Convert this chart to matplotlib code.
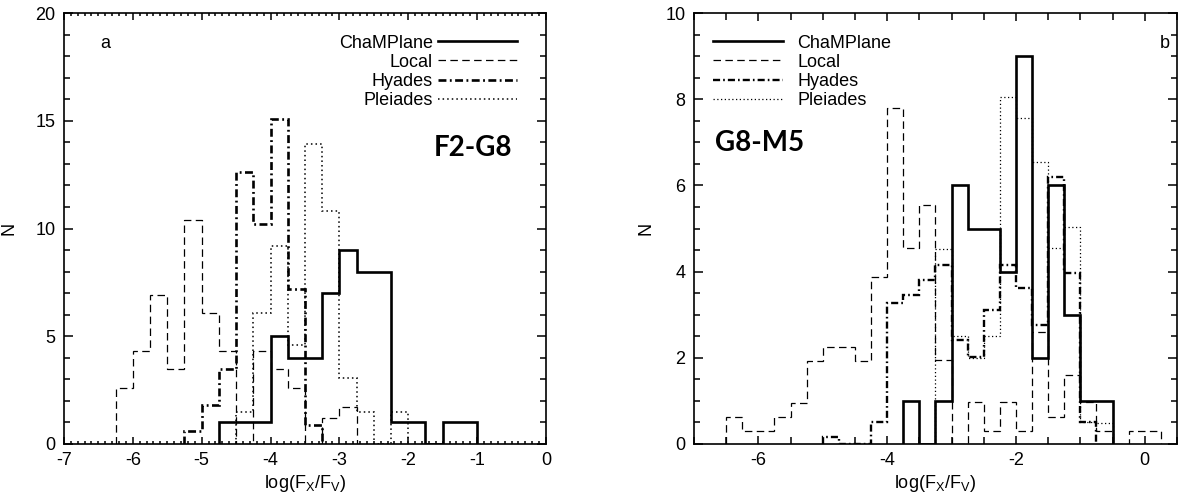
import numpy as np
import matplotlib
matplotlib.use("Agg")
import matplotlib.pyplot as plt
from matplotlib.lines import Line2D
from matplotlib.ticker import MultipleLocator

plt.rcParams['font.family'] = ['Liberation Sans', 'DejaVu Sans']
plt.rcParams['mathtext.fontset'] = 'custom'
plt.rcParams['mathtext.rm'] = 'Liberation Sans'
plt.rcParams['mathtext.it'] = 'Liberation Sans'
plt.rcParams['axes.unicode_minus'] = False

bin_width = 0.25
series_names = ['ChaMPlane', 'Local', 'Hyades', 'Pleiades']

# panel a: F2-G8 (first bin edge, then counts per 0.25 dex bin)
champ_a_start = -4.75
champ_a = [1, 1, 1, 5, 4, 4, 7, 9, 8, 8, 1, 1, 0, 1, 1]
local_a_start = -6.25
local_a = [2.6, 4.3, 6.9, 3.5, 10.4, 6.1, 4.3, 0, 4.3, 3.5, 2.6, 0, 1.2, 1.7]
hyades_a_start = -5.25
hyades_a = [0.6, 1.8, 3.5, 12.6, 10.2, 15.1, 7.2, 0.9]
pleiades_a_start = -4.5
pleiades_a = [1.5, 6.1, 9.2, 4.6, 13.9, 10.8, 3.05, 1.5, 0, 1.5]

# panel b: G8-M5
champ_b_start = -3.75
champ_b = [1, 0, 1, 6, 5, 5, 4, 9, 2, 6, 3, 1, 1]
local_b_start = -6.5
local_b = [0.63, 0.3, 0.3, 0.63, 0.96, 1.93, 2.26, 2.26, 1.93, 3.88, 7.8, 4.55,
           5.55, 1.95, 0, 0.97, 0.31, 0.97, 0.31, 2.6, 0.63, 1.6, 0.97, 0.31,
           0, 0.3, 0.3]
hyades_b_start = -5.0
hyades_b = [0.17, 0, 0, 0.52, 3.28, 3.46, 3.8, 4.15, 2.41, 2.03, 3.11, 4.15,
            3.61, 2.76, 6.2, 3.96, 0.52]
pleiades_b_start = -3.25
pleiades_b = [4.53, 2.5, 2.0, 2.5, 8.06, 7.56, 6.54, 4.55, 5.03, 0.52, 0.48]


def edges(start, vals):
    return start + bin_width * np.arange(len(vals) + 1)


def styles(hy_lw, pl_lw):
    return [
        dict(lw=1.9, ls='-'),
        dict(lw=0.9, ls=(0, (6, 3.5))),
        dict(lw=hy_lw, ls=(0, (3.0, 1.3, 0.7, 1.3))),
        dict(lw=pl_lw, ls=(0, (1, 2))),
    ]


def setup(ax, xlim, ylim, xmaj, xmin, ymaj, ymin, xlen):
    ax.set_xlim(*xlim)
    ax.set_ylim(*ylim)
    ax.xaxis.set_major_locator(MultipleLocator(xmaj))
    ax.xaxis.set_minor_locator(MultipleLocator(xmin))
    ax.yaxis.set_major_locator(MultipleLocator(ymaj))
    ax.yaxis.set_minor_locator(MultipleLocator(ymin))
    ax.tick_params(which='both', direction='in', top=True, right=True,
                   width=1.1, labelsize=13, pad=6)
    ax.tick_params(axis='x', which='major', length=xlen[0])
    ax.tick_params(axis='x', which='minor', length=xlen[1])
    ax.tick_params(axis='y', which='major', length=6.5)
    ax.tick_params(axis='y', which='minor', length=4)
    for s in ax.spines.values():
        s.set_linewidth(1.2)
    ax.set_xlabel(r'log(F$_\mathrm{X}$/F$_\mathrm{V}$)', fontsize=13)
    ax.set_ylabel('N', fontsize=13)


fig = plt.figure(figsize=(11.82, 5.0), dpi=100)
ax1 = fig.add_axes([0.0541, 0.112, 0.4078, 0.862])
ax2 = fig.add_axes([0.5871, 0.112, 0.4086, 0.862])

# left panel
st = styles(1.9, 1.1)
data_a = [(champ_a_start, champ_a), (local_a_start, local_a),
          (hyades_a_start, hyades_a), (pleiades_a_start, pleiades_a)]
for (s0, v), sty in zip(data_a, st):
    ax1.stairs(v, edges(s0, v), baseline=0, color='black', linewidth=sty['lw'],
               linestyle=sty['ls'])
setup(ax1, (-7, 0), (0, 20), 1, 0.1, 5, 1, (5, 2.5))
ax1.yaxis.set_label_coords(-0.0965, 0.5)
ax1.xaxis.set_label_coords(0.5, -0.068)
handles = [Line2D([], [], color='black', linewidth=s['lw'], linestyle=s['ls']) for s in st]
ax1.legend(handles, series_names, loc='upper right', bbox_to_anchor=(0.94, 0.95),
           frameon=False, markerfirst=False, fontsize=13, handlelength=4.4,
           handletextpad=0.25, labelspacing=0.12, borderpad=0, borderaxespad=0)
ax1.text(0.075, 0.93, 'a', transform=ax1.transAxes, fontsize=13, va='center')
ax1.text(0.93, 0.687, 'F2-G8', transform=ax1.transAxes, fontsize=20,
         fontweight='bold', family='Lato', ha='right', va='center')

# right panel
st = styles(1.7, 0.9)
data_b = [(champ_b_start, champ_b), (local_b_start, local_b),
          (hyades_b_start, hyades_b), (pleiades_b_start, pleiades_b)]
for (s0, v), sty in zip(data_b, st):
    ax2.stairs(v, edges(s0, v), baseline=0, color='black', linewidth=sty['lw'],
               linestyle=sty['ls'])
setup(ax2, (-7, 0.5), (0, 10), 2, 0.5, 2, 0.5, (6, 5))
ax2.yaxis.set_label_coords(-0.082, 0.5)
ax2.xaxis.set_label_coords(0.5, -0.068)
handles = [Line2D([], [], color='black', linewidth=s['lw'], linestyle=s['ls']) for s in st]
ax2.legend(handles, series_names, loc='upper left', bbox_to_anchor=(0.039, 0.95),
           frameon=False, fontsize=13, handlelength=3.9,
           handletextpad=0.78, labelspacing=0.12, borderpad=0, borderaxespad=0)
ax2.text(0.965, 0.93, 'b', transform=ax2.transAxes, fontsize=13, va='center')
ax2.text(0.043, 0.698, 'G8-M5', transform=ax2.transAxes, fontsize=20,
         fontweight='bold', family='Lato', ha='left', va='center')

fig.savefig('out.png', dpi=100)
